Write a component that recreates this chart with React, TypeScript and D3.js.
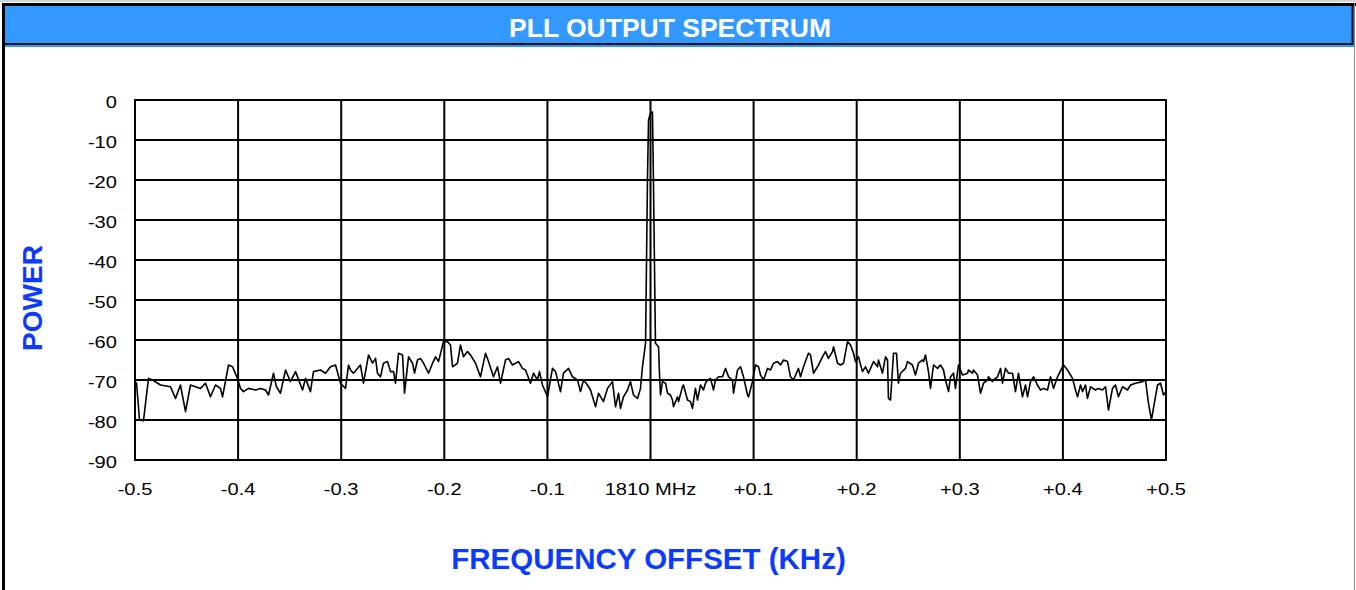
import React from "react";
import * as d3 from "d3";

// tick values / labels
const yTicks = [0, -10, -20, -30, -40, -50, -60, -70, -80, -90];
const xTicks = [-0.5, -0.4, -0.3, -0.2, -0.1, 0, 0.1, 0.2, 0.3, 0.4, 0.5];
const xTickLabels = ["-0.5", "-0.4", "-0.3", "-0.2", "-0.1", "1810 MHz", "+0.1", "+0.2", "+0.3", "+0.4", "+0.5"];

// spectrum trace, [offset kHz, power dB]
const lowerSideband: [number, number][] = [
  [-0.5, -70.5], [-0.4985, -70.8], [-0.4956, -80], [-0.4918, -80.2], [-0.4869, -69.6], [-0.483, -70],
  [-0.4753, -71.25], [-0.4656, -71.7], [-0.4607, -74.6], [-0.4559, -71.25], [-0.451, -77.9], [-0.4462, -71.25],
  [-0.4365, -72.1], [-0.4316, -70.8], [-0.4268, -74.2], [-0.4219, -71.25], [-0.4171, -72.1], [-0.4151, -74.2],
  [-0.4093, -66.25], [-0.4054, -66.7], [-0.4006, -69.6], [-0.3977, -72.1], [-0.3948, -72.9], [-0.3899, -72.1],
  [-0.3831, -72.5], [-0.3783, -72.1], [-0.3734, -72.5], [-0.3705, -73.75], [-0.3657, -68.3], [-0.3628, -71.7],
  [-0.3589, -73.3], [-0.354, -67.5], [-0.3492, -70.4], [-0.3443, -67.9], [-0.3375, -72.5], [-0.3346, -69.6],
  [-0.3298, -72.9], [-0.3269, -67.9], [-0.3201, -67.5], [-0.3152, -68.3], [-0.3104, -66.7], [-0.3055, -66.25],
  [-0.3007, -70.8], [-0.2958, -72.1], [-0.2929, -66.25], [-0.291, -67.5], [-0.2881, -68.3], [-0.2813, -66.25],
  [-0.2784, -70.8], [-0.2735, -63.75], [-0.2696, -65.8], [-0.2667, -64.6], [-0.2648, -68.3], [-0.2619, -69.2],
  [-0.259, -65.8], [-0.2551, -65.4], [-0.2522, -67.9], [-0.2493, -67.9], [-0.2473, -70.8], [-0.2444, -63.3],
  [-0.2405, -63.75], [-0.2386, -73.3], [-0.2347, -64.2], [-0.2308, -65.8], [-0.2289, -68.3], [-0.226, -65],
  [-0.2231, -64.6], [-0.2202, -65.8], [-0.2153, -68.3], [-0.2114, -65.8], [-0.2085, -64.2], [-0.2056, -65.4],
  [-0.2008, -60.4], [-0.1969, -60.4], [-0.194, -61.25], [-0.192, -66.7], [-0.1872, -65.8], [-0.1843, -61.25],
  [-0.1814, -64.2], [-0.1775, -62.9], [-0.1746, -63.75], [-0.1697, -65.8], [-0.1649, -69.2], [-0.16, -63.3],
  [-0.1571, -65.4], [-0.1523, -69.2], [-0.1484, -66.7], [-0.1455, -70.8], [-0.1406, -65], [-0.1377, -64.6],
  [-0.1339, -66.25], [-0.1309, -65.8], [-0.128, -65.4], [-0.1242, -67.1], [-0.1212, -67.5], [-0.1164, -70.8],
  [-0.1135, -68.3], [-0.1096, -70], [-0.1077, -67.9], [-0.1048, -71.25], [-0.0999, -74.2], [-0.0951, -67.1],
  [-0.0921, -67.9], [-0.0873, -72.9], [-0.0844, -68.3], [-0.0795, -67.1], [-0.0757, -69.2], [-0.0708, -70],
  [-0.0679, -72.9], [-0.065, -70], [-0.0611, -71.25], [-0.0582, -72.5], [-0.0533, -76.7], [-0.0504, -73.3],
  [-0.0456, -75.4], [-0.0417, -72.1], [-0.0369, -70.4], [-0.0339, -76.7], [-0.031, -73.3], [-0.0291, -77.1],
  [-0.0262, -74.2], [-0.0223, -72.5], [-0.0194, -70.4], [-0.0165, -73.75], [-0.0126, -74.6], [-0.0097, -72.1],
];

const carrier: [number, number][] = [
  [-0.0078, -66.7], [-0.0048, -60.8], [-0.0029, -19], [-0.0019, -5], [0, -3.3], [0.0019, -3],
  [0.0029, -21], [0.0048, -60.8], [0.0078, -61.7], [0.0087, -68.3],
];

const upperSideband: [number, number][] = [
  [0.0097, -73.75], [0.0116, -70.4], [0.0146, -70.8], [0.0165, -73.3], [0.0194, -73.75], [0.0213, -75],
  [0.0223, -76.7], [0.0262, -74.2], [0.0272, -75.4], [0.031, -71.7], [0.032, -71.25], [0.0359, -75],
  [0.0388, -75.4], [0.0407, -77.1], [0.0436, -72.1], [0.0456, -75], [0.0485, -71.25], [0.0514, -72.5],
  [0.0533, -70.8], [0.0553, -70], [0.0582, -69.6], [0.0611, -72.5], [0.063, -70], [0.066, -69.2],
  [0.0698, -69.2], [0.0727, -67.1], [0.0757, -69.2], [0.0795, -70], [0.0805, -73.3], [0.0844, -67.5],
  [0.0873, -66.7], [0.0902, -69.2], [0.0941, -73.75], [0.0951, -74.2], [0.0989, -70.4], [0.1018, -66.25],
  [0.1048, -66.7], [0.1067, -68.75], [0.1096, -70], [0.1135, -67.1], [0.1164, -67.5], [0.1193, -65.8],
  [0.1232, -65.4], [0.1261, -66.25], [0.129, -65], [0.1329, -65.4], [0.1358, -69.2], [0.1387, -70],
  [0.1435, -67.1], [0.1455, -69.2], [0.1484, -66.7], [0.1532, -63.3], [0.1552, -63.75], [0.1581, -68.3],
  [0.162, -66.7], [0.1668, -64.2], [0.1697, -62.9], [0.1726, -64.6], [0.1765, -62.9], [0.1775, -61.7],
  [0.1814, -65.8], [0.1843, -66.25], [0.1872, -65.8], [0.1911, -60.4], [0.194, -61.25], [0.1969, -63.3],
  [0.1988, -65.4], [0.2017, -64.2], [0.2056, -67.9], [0.2085, -66.7], [0.2114, -68.3], [0.2163, -65.4],
  [0.2202, -66.7], [0.2211, -65], [0.225, -68.3], [0.2279, -64.2], [0.2299, -65], [0.2308, -74.6],
  [0.2328, -75], [0.2357, -63.3], [0.2386, -63.3], [0.2405, -70.8], [0.2425, -68.3], [0.2473, -67.1],
  [0.2493, -65.4], [0.2541, -66.25], [0.257, -68.75], [0.2599, -65.8], [0.2638, -65], [0.2648, -65.4],
  [0.2667, -63.75], [0.2696, -67.9], [0.2716, -72.1], [0.2745, -66.25], [0.2784, -67.1], [0.2813, -66.25],
  [0.2842, -67.5], [0.2861, -70], [0.2891, -72.9], [0.291, -69.2], [0.2939, -68.3], [0.2958, -72.1],
  [0.2987, -66.25], [0.3026, -68.75], [0.3075, -68.3], [0.3084, -67.5], [0.3123, -68.3], [0.3133, -67.5],
  [0.3172, -68.75], [0.3201, -73.3], [0.323, -70.8], [0.3269, -70], [0.3278, -69.2], [0.3317, -70.4],
  [0.3327, -70], [0.3366, -69.2], [0.3395, -67.1], [0.3414, -70.8], [0.3443, -67.1], [0.3472, -68.3],
  [0.3511, -68.3], [0.354, -72.9], [0.3569, -68.3], [0.3608, -74.2], [0.3637, -71.25], [0.3657, -74.2],
  [0.3686, -70.4], [0.3715, -69.2], [0.3753, -71.25], [0.3783, -72.5], [0.3812, -72.1], [0.3851, -72.5],
  [0.388, -69.2], [0.3909, -72.1], [0.3948, -69.2], [0.3996, -66.7], [0.4006, -66.25], [0.4045, -67.5],
  [0.4093, -69.6], [0.4122, -72.5], [0.4142, -74.2], [0.4171, -71.25], [0.419, -72.9], [0.4219, -71.25],
  [0.4238, -74.6], [0.4268, -71.7], [0.4316, -72.5], [0.4345, -72.1], [0.4384, -72.5], [0.4413, -71.7],
  [0.4442, -77.5], [0.4481, -72.1], [0.451, -71.25], [0.4539, -74.2], [0.4578, -71.7], [0.4627, -72.5],
  [0.4656, -71.25], [0.4704, -70.8], [0.4772, -70.4], [0.4801, -70], [0.483, -75.8], [0.4859, -80],
  [0.4878, -77.1], [0.4918, -71.25], [0.4947, -70.8], [0.4976, -73.75], [0.5, -72.9],
];

const W = 1356;
const H = 590;
const FONT = "'Liberation Sans', Arial, sans-serif";
const AXIS_BLUE = "#0b3bff";

// tick labels in the original are a bit wider than plain Arial
const Stretched = ({ x, y, anchor, children }) => (
  <g transform={`translate(${x},${y}) scale(1.22,1)`}>
    <text textAnchor={anchor} fontSize="16.5" fontFamily={FONT} fill="#000">
      {children}
    </text>
  </g>
);

const App = () => {
  const left = 135, right = 1166, top = 100, bottom = 460;

  const x = d3.scaleLinear().domain([-0.5, 0.5]).range([left, right]);
  const y = d3.scaleLinear().domain([-90, 0]).range([bottom, top]);

  const line = d3
    .line<[number, number]>()
    .x(d => x(d[0]))
    .y(d => y(d[1]));

  const trace = [...lowerSideband, ...carrier, ...upperSideband];

  return (
    <div style={{ position: "fixed", left: 0, top: 0 }}>
      <svg width={W} height={H} style={{ display: "block" }}>
        <rect x={0} y={0} width={W} height={H} fill="#fff" />

        {/* frame */}
        <line x1={0} x2={W} y1={1} y2={1} stroke="#aaa" strokeWidth={1} />
        <line x1={2} x2={W} y1={4.5} y2={4.5} stroke="#000" strokeWidth={3} />
        <line x1={3.5} x2={3.5} y1={3} y2={H} stroke="#000" strokeWidth={3} />
        <line x1={1354.5} x2={1354.5} y1={3} y2={H} stroke="#888" strokeWidth={1} />

        {/* title bar */}
        <rect x={5} y={6} width={1349} height={41} fill="#3399ff" />
        <line x1={5} x2={1353} y1={44} y2={44} stroke="#111" strokeWidth={2} />
        <line x1={1352.5} x2={1352.5} y1={6} y2={45} stroke="#111" strokeWidth={2} />
        <text x={670} y={37} textAnchor="middle" fontSize="26.5" fontWeight="bold" fontFamily={FONT} fill="#fff">
          PLL OUTPUT SPECTRUM
        </text>

        {/* grid */}
        {yTicks.map(t => (
          <line key={"h" + t} x1={left} x2={right} y1={y(t)} y2={y(t)} stroke="#000" strokeWidth={2} />
        ))}
        {xTicks.map(t => (
          <line key={"v" + t} x1={x(t)} x2={x(t)} y1={top} y2={bottom} stroke="#000" strokeWidth={2} />
        ))}
        <rect x={left} y={top} width={right - left} height={bottom - top} fill="none" stroke="#000" strokeWidth={2} />

        {/* trace */}
        <path d={line(trace)} fill="none" stroke="#000" strokeWidth={1.6} strokeLinejoin="round" />

        {/* tick labels */}
        {yTicks.map(t => (
          <Stretched key={"yl" + t} x={117} y={y(t) + 7.5} anchor="end">
            {String(t)}
          </Stretched>
        ))}
        {xTicks.map((t, i) => (
          <Stretched key={"xl" + t} x={x(t)} y={495} anchor="middle">
            {xTickLabels[i]}
          </Stretched>
        ))}

        {/* axis titles */}
        <text
          transform="translate(42,298) rotate(-90)"
          textAnchor="middle"
          fontSize="28"
          fontWeight="bold"
          fontFamily={FONT}
          fill={AXIS_BLUE}
        >
          POWER
        </text>
        <text x={648.5} y={569} textAnchor="middle" fontSize="29.5" fontWeight="bold" fontFamily={FONT} fill={AXIS_BLUE}>
          FREQUENCY OFFSET (KHz)
        </text>
      </svg>
    </div>
  );
};

export default App;
